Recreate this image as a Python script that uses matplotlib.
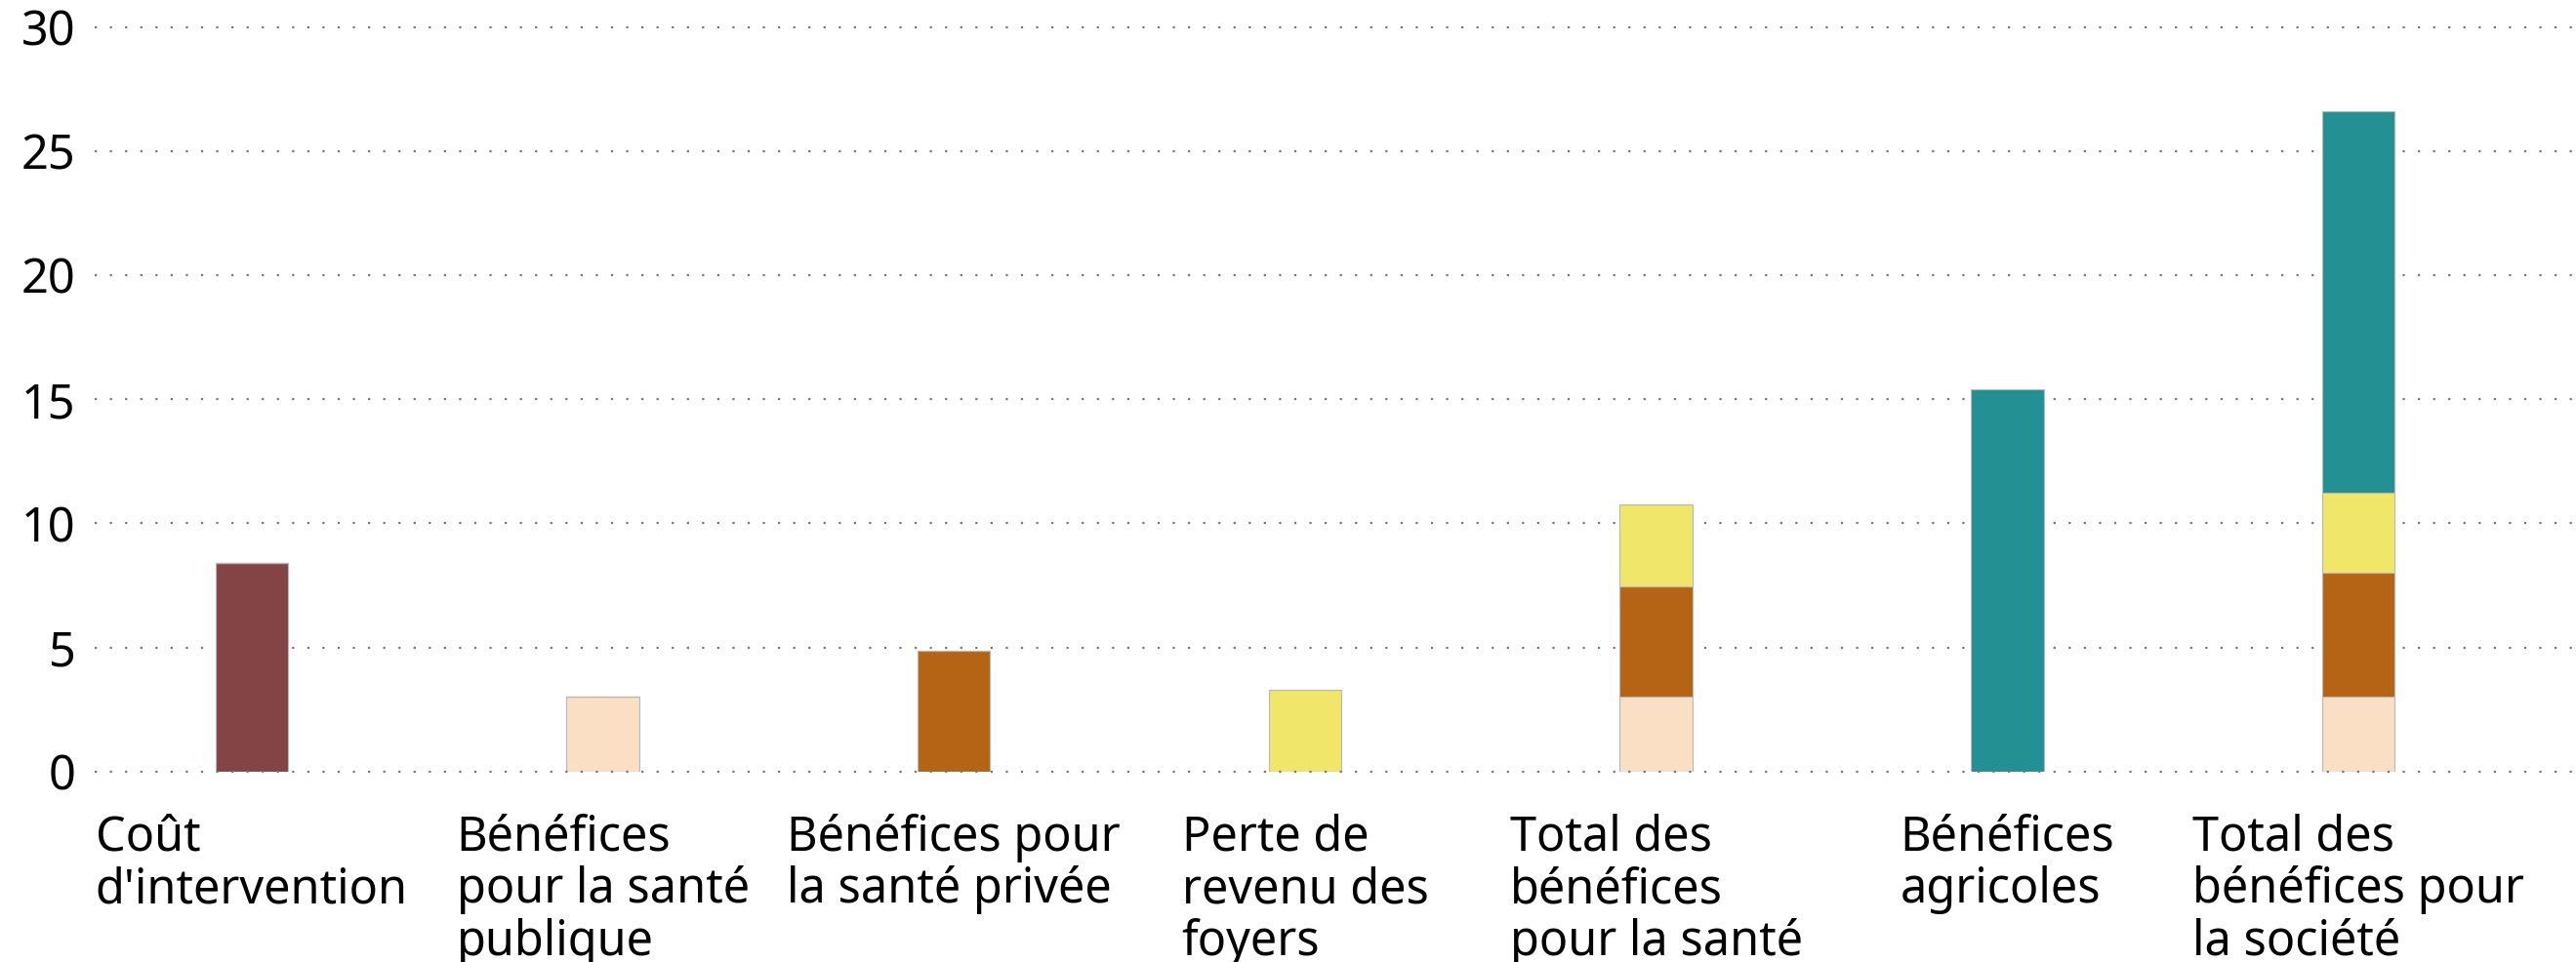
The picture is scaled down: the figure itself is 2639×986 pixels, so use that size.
import matplotlib
matplotlib.use("Agg")
import matplotlib.pyplot as plt
import numpy as np

plt.rcParams["font.family"] = ["Noto Sans", "DejaVu Sans"]

categories = [
    "Coût\nd'intervention",
    "Bénéfices\npour la santé\npublique",
    "Bénéfices pour\nla santé privée",
    "Perte de\nrevenu des\nfoyers",
    "Total des\nbénéfices\npour la santé",
    "Bénéfices\nagricoles",
    "Total des\nbénéfices pour\nla société",
]

# stacked components per category (0 where absent)
cost = [8.4, 0, 0, 0, 0, 0, 0]
public_health = [0, 3.0, 0, 0, 3.0, 0, 3.0]
private_health = [0, 0, 4.85, 0, 4.45, 0, 5.0]
income_loss = [0, 0, 0, 3.3, 3.3, 0, 3.25]
agriculture = [0, 0, 0, 0, 0, 15.4, 15.35]

series = [
    (cost, "#844446"),
    (public_health, "#FBDFC4"),
    (private_health, "#B56416"),
    (income_loss, "#F0E66A"),
    (agriculture, "#239193"),
]

fig = plt.figure(figsize=(26.39, 9.86), dpi=100)
ax = fig.add_axes([0.0368, 0.198, 0.9632, 0.774])

x = np.arange(len(categories))
bottom = np.zeros(len(categories))
for vals, color in series:
    vals = np.array(vals, dtype=float)
    ax.bar(x, vals, width=0.207, bottom=bottom, color=color,
           edgecolor="#b8b8b8", linewidth=0.8, zorder=2)
    bottom += vals

for y in range(0, 31, 5):
    ax.axhline(y, color="#777777", linewidth=1.6, linestyle=(0, (1, 6)),
               zorder=1 if y else 3, clip_on=False)

ax.set_xlim(-0.447, 6.62)
ax.set_ylim(0, 30)
ax.set_yticks(range(0, 31, 5))
ax.set_xticks(x)
ax.set_xticklabels(categories)
for lbl in ax.get_xticklabels():
    lbl.set_multialignment("left")
    lbl.set_linespacing(1.09)

ax.tick_params(axis="both", length=0, labelsize=35, colors="black")
ax.tick_params(axis="x", pad=31)
ax.tick_params(axis="y", pad=14)
for s in ax.spines.values():
    s.set_visible(False)

fig.savefig("out.png", dpi=100)
plt.close(fig)
